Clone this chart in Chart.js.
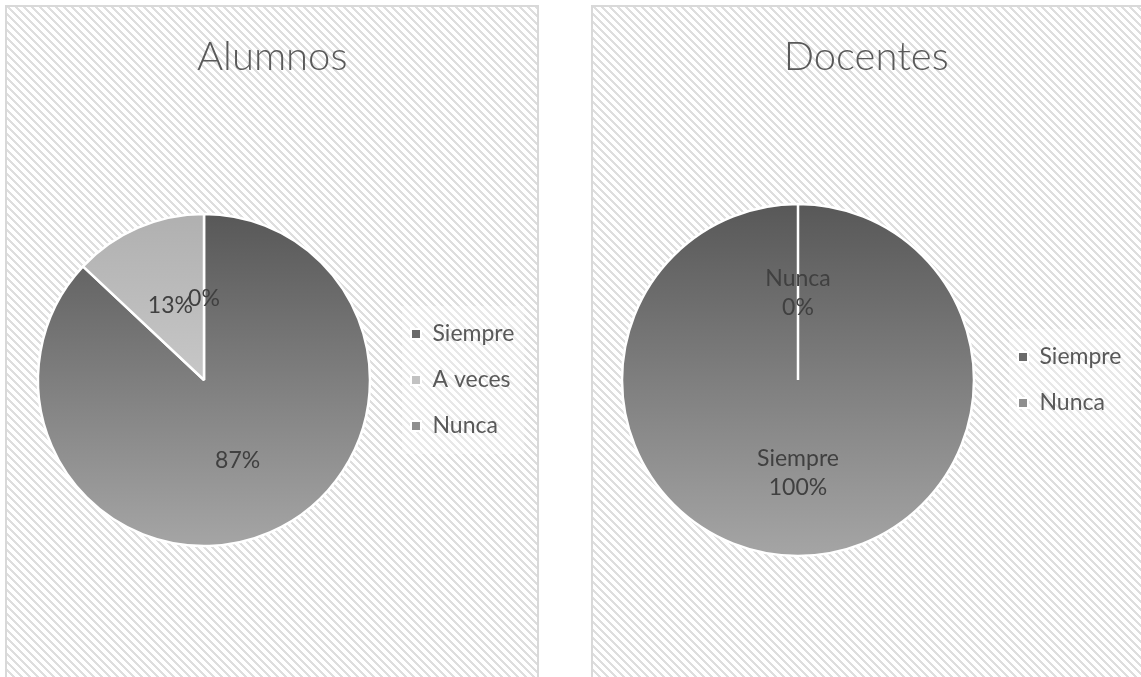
<!DOCTYPE html>
<html>
<head>
<meta charset="utf-8">
<script src="https://cdn.jsdelivr.net/npm/chart.js@4.4.1/dist/chart.umd.min.js"></script>
<style>
  html, body { margin: 0; padding: 0; background: #fff; overflow: hidden; width: 1141px; height: 677px; }
  .panel { position: absolute; top: 5px; border: 2px solid #d9d9d9; height: 700px; }
  #p1 { left: 5px; width: 530px; }
  #p2 { left: 591px; width: 556px; }
  canvas { display: block; }
</style>
</head>
<body>
<div class="panel" id="p1"><canvas id="alumnosChart" width="530" height="670"></canvas></div>
<div class="panel" id="p2"><canvas id="docentesChart" width="556" height="670"></canvas></div>
<script>
// data
var alumnosLabels = ['Siempre', 'A veces', 'Nunca'];
var alumnosValues = [87, 13, 0];
var docentesLabels = ['Siempre', 'Nunca'];
var docentesValues = [100, 0];

// gray levels (top, bottom of the pie) for each category
var shades = { 'Siempre': [88, 165], 'A veces': [176, 222], 'Nunca': [125, 190] };
var legendColors = { 'Siempre': '#6a6a6a', 'A veces': '#c2c2c2', 'Nunca': '#8f8f8f' };

Chart.defaults.font.family = 'Lato';

function gray(v) { return 'rgb(' + v + ',' + v + ',' + v + ')'; }

function sliceFill(labels, radius) {
  return function(c) {
    var s = shades[labels[c.dataIndex]];
    var area = c.chart.chartArea;
    if (!area) return gray(s[0]);
    var cy = (area.top + area.bottom) / 2;
    var g = c.chart.ctx.createLinearGradient(0, cy - radius, 0, cy + radius);
    g.addColorStop(0, gray(s[0]));
    g.addColorStop(1, gray(s[1]));
    return g;
  };
}

// diagonal hatch tile
var tile = document.createElement('canvas');
tile.width = 8; tile.height = 8;
var tctx = tile.getContext('2d');
tctx.fillStyle = '#fff';
tctx.fillRect(0, 0, 8, 8);
tctx.fillStyle = '#dedede';
for (var ty = 0; ty < 8; ty++) {
  for (var tx = 0; tx < 8; tx++) {
    if ((tx - ty + 16) % 8 < 3) tctx.fillRect(tx, ty, 1, 1);
  }
}

var hatch = {
  id: 'hatch',
  beforeDraw: function(chart) {
    var ctx = chart.ctx;
    ctx.save();
    ctx.fillStyle = ctx.createPattern(tile, 'repeat');
    ctx.fillRect(0, 0, chart.width, chart.height);
    var lg = chart.legend;
    if (lg && lg.legendItems) {
      var mid = (lg.top + lg.bottom) / 2;
      var h = lg.legendItems.length * 46 + 10;
      ctx.fillStyle = 'rgba(255,255,255,0.3)';
      ctx.fillRect(lg.left + 14, mid - h / 2, lg.width - 14, h);
    }
    ctx.restore();
  }
};

var sliceLabels = {
  id: 'sliceLabels',
  afterDatasetsDraw: function(chart, args, opts) {
    var ctx = chart.ctx;
    var meta = chart.getDatasetMeta(0);
    var values = chart.data.datasets[0].data;
    var total = values.reduce(function(a, b) { return a + b; }, 0);
    ctx.save();
    ctx.font = '23px Lato';
    ctx.fillStyle = '#404040';
    ctx.textAlign = 'center';
    ctx.textBaseline = 'middle';
    meta.data.forEach(function(arc, i) {
      var p = arc.getProps(['x', 'y', 'startAngle', 'endAngle', 'outerRadius'], true);
      var a = (p.startAngle + p.endAngle) / 2;
      var r = p.outerRadius * 0.51;
      var x = p.x + Math.cos(a) * r;
      var y = p.y + Math.sin(a) * r + 3;
      var pct = Math.round(values[i] / total * 100) + '%';
      var lines = opts.showCategory ? [chart.data.labels[i], pct] : [pct];
      lines.forEach(function(t, k) {
        ctx.fillText(t, x, y + (k - (lines.length - 1) / 2) * 29);
      });
    });
    ctx.restore();
  }
};

function legendWidth(labels) {
  var m = document.createElement('canvas').getContext('2d');
  m.font = '23px Lato';
  var w = 0;
  labels.forEach(function(t) { w = Math.max(w, m.measureText(t).width); });
  return 23 + 10 + 11.5 + w + 10;
}

function makePie(id, title, labels, values, radius, width, legendLeft, pieX, showCategory) {
  var ctx = document.getElementById(id).getContext('2d');
  var padRight = width - legendLeft - legendWidth(labels);
  return new Chart(ctx, {
    type: 'pie',
    data: {
      labels: labels,
      datasets: [{
        data: values,
        backgroundColor: sliceFill(labels, radius),
        borderColor: '#ffffff',
        borderWidth: 2.5
      }]
    },
    options: {
      responsive: false,
      animation: false,
      radius: radius,
      layout: { padding: { left: 2 * pieX - legendLeft, right: padRight, top: 0, bottom: 94 } },
      plugins: {
        title: {
          display: true,
          text: title,
          color: '#595959',
          font: { family: 'Lato', size: 40, weight: '300' },
          padding: { top: 26, bottom: 96 }
        },
        legend: {
          position: 'right',
          fullSize: false,
          align: 'center',
          labels: {
            boxWidth: 10,
            boxHeight: 10,
            padding: 23,
            color: '#595959',
            font: { family: 'Lato', size: 23 },
            generateLabels: function(chart) {
              var items = Chart.DoughnutController.overrides.plugins.legend.labels.generateLabels(chart);
              items.forEach(function(it) {
                it.fillStyle = legendColors[it.text];
                it.strokeStyle = '#ffffff';
                it.lineWidth = 2;
              });
              return items;
            }
          }
        },
        tooltip: { enabled: false },
        sliceLabels: { showCategory: showCategory }
      }
    },
    plugins: [hatch, sliceLabels]
  });
}

document.addEventListener('DOMContentLoaded', function() {
  makePie('alumnosChart', 'Alumnos', alumnosLabels, alumnosValues, 166, 530, 381, 197, false);
  makePie('docentesChart', 'Docentes', docentesLabels, docentesValues, 176, 556, 402, 205, true);
});
</script>
</body>
</html>
